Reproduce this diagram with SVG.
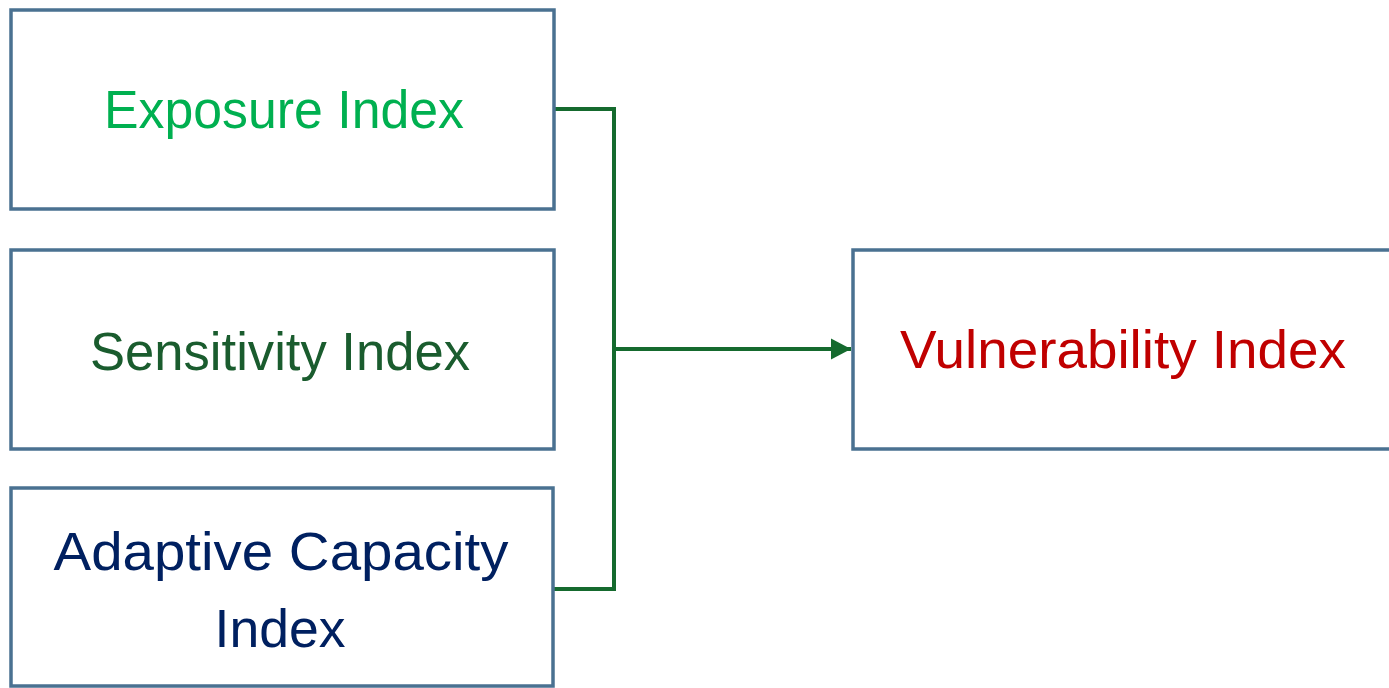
<svg xmlns="http://www.w3.org/2000/svg" width="1389" height="688" viewBox="0 0 1389 688">
<style>
.box{fill:#ffffff;stroke:#4a7191;stroke-width:3.5}
.t{font-family:"Liberation Sans",Arial,sans-serif;font-size:54px;text-anchor:middle}
.conn{fill:none;stroke:#156a2e;stroke-width:4}
</style>
<defs>
<marker id="arr" markerUnits="userSpaceOnUse" markerWidth="22" markerHeight="24" refX="20" refY="12" orient="auto">
<path d="M0,1.5 L20,12 L0,22.5 Z" fill="#156a2e"/>
</marker>
</defs>
<rect width="1389" height="688" fill="#ffffff"/>
<g id="connectors">
<path class="conn" d="M554,109 H614 V589 H554"/>
<path class="conn" d="M614,349 H851" marker-end="url(#arr)"/>
</g>
<g id="exposure">
<rect class="box" x="11" y="10" width="543" height="199"/>
<text class="t" x="284" y="128" fill="#00b050" textLength="360" lengthAdjust="spacingAndGlyphs">Exposure Index</text>
</g>
<g id="sensitivity">
<rect class="box" x="11" y="250" width="543" height="199"/>
<text class="t" x="280" y="370" fill="#1a5c2e" textLength="380" lengthAdjust="spacingAndGlyphs">Sensitivity Index</text>
</g>
<g id="adaptive">
<rect class="box" x="11" y="488" width="542" height="198"/>
<text class="t" x="281" y="570" fill="#002060" textLength="455" lengthAdjust="spacingAndGlyphs">Adaptive Capacity</text>
<text class="t" x="280" y="647" fill="#002060" textLength="131" lengthAdjust="spacingAndGlyphs">Index</text>
</g>
<g id="vulnerability">
<rect class="box" x="853" y="250" width="560" height="199"/>
<text class="t" x="1123" y="368" fill="#c00000" textLength="446" lengthAdjust="spacingAndGlyphs">Vulnerability Index</text>
</g>
</svg>
